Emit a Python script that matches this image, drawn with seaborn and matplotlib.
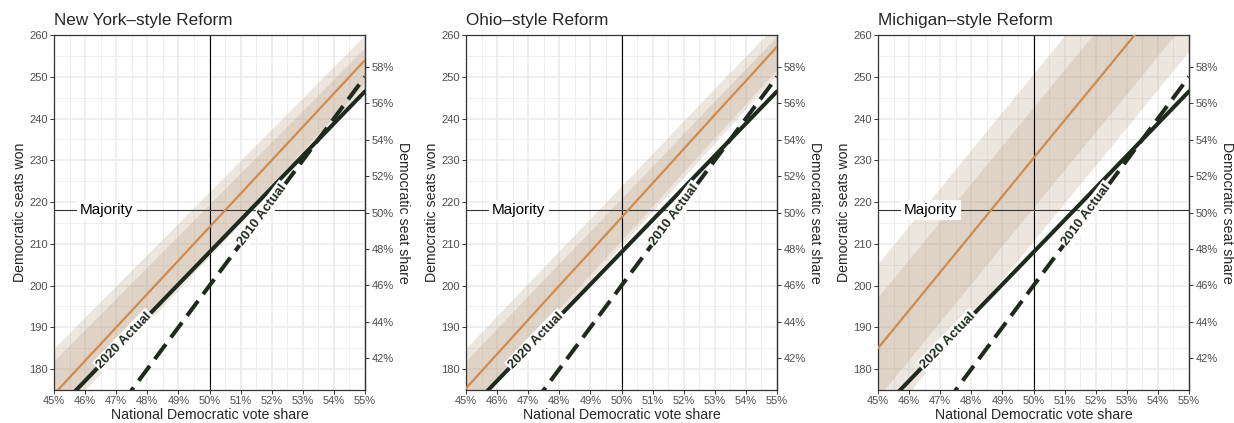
import numpy as np
import matplotlib
matplotlib.use("Agg")
import matplotlib.pyplot as plt
import seaborn as sns
from matplotlib.ticker import FixedLocator, FuncFormatter, MultipleLocator

sns.set_style("white")
plt.rcParams["font.family"] = ["Liberation Sans", "DejaVu Sans"]

# ── Data (seats out of 435) ─────────────────────────────────────────────────
vote_share = [45, 46, 47, 48, 49, 50, 51, 52, 53, 54, 55]

seats_2020 = [169.5, 177.2, 184.9, 192.6, 200.3, 208, 215.7, 223.4, 231.1, 238.8, 246.5]
seats_2010 = [150, 160, 170, 180, 190, 200, 210, 220, 230, 240, 250]

panel_titles = ["New York\u2013style Reform", "Ohio\u2013style Reform", "Michigan\u2013style Reform"]

ny_mid      = [174, 182, 190, 198, 206, 214, 222, 230, 238, 246, 254]
ny_inner_lo = [168.5, 176.5, 184.5, 192.5, 200.5, 208.5, 216.5, 224.5, 232.5, 240.5, 248.5]
ny_inner_hi = [182, 189.5, 197, 204.5, 212, 219.5, 227, 234.5, 242, 249.5, 257]
ny_outer_lo = [167, 175, 183, 191, 199, 207, 215, 223, 231, 239, 247]
ny_outer_hi = [185, 192.5, 200, 207.5, 215, 222.5, 230, 237.5, 245, 252.5, 260]

oh_mid      = [175.4, 183.6, 191.8, 200, 208.1, 216.3, 224.5, 232.7, 240.9, 249, 257.2]
oh_inner_lo = [170, 178.2, 186.4, 194.6, 202.7, 210.9, 219.1, 227.3, 235.5, 243.6, 251.8]
oh_inner_hi = [182, 189.8, 197.6, 205.4, 213.1, 220.9, 228.7, 236.5, 244.3, 252, 259.7]
oh_outer_lo = [168.7, 176.9, 185.1, 193.3, 201.4, 209.6, 217.8, 226, 234.2, 242.4, 250.6]
oh_outer_hi = [185, 192.8, 200.6, 208.4, 216.1, 223.9, 231.7, 239.5, 247.3, 255, 262.8]

mi_mid      = [185, 194.1, 203.2, 212.3, 221.4, 230.5, 239.6, 248.6, 257.7, 266.8, 275.9]
mi_inner_lo = [173, 182.1, 191.2, 200.3, 209.4, 218.5, 227.6, 236.6, 245.7, 254.8, 263.9]
mi_inner_hi = [197, 206.1, 215.2, 224.3, 233.4, 242.5, 251.6, 260.6, 269.7, 278.8, 287.9]
mi_outer_lo = [165, 174.1, 183.2, 192.3, 201.4, 210.5, 219.6, 228.6, 237.7, 246.8, 255.9]
mi_outer_hi = [205, 214.1, 223.2, 232.3, 241.4, 250.5, 259.6, 268.6, 277.7, 286.8, 295.9]

panels = [
    (ny_mid, ny_inner_lo, ny_inner_hi, ny_outer_lo, ny_outer_hi),
    (oh_mid, oh_inner_lo, oh_inner_hi, oh_outer_lo, oh_outer_hi),
    (mi_mid, mi_inner_lo, mi_inner_hi, mi_outer_lo, mi_outer_hi),
]

HOUSE_SEATS = 435
MAJORITY = 218
share_ticks = [42, 44, 46, 48, 50, 52, 54, 56, 58]

# ── Style ───────────────────────────────────────────────────────────────────
DARK = "#1F291E"
ORANGE = "#D08A4B"
BAND = "#B89C80"
GRID = "#EBEBEB"
BORDER = "#333333"
TICKTXT = "#4D4D4D"

W, H = 1234, 423
fig = plt.figure(figsize=(W / 100, H / 100), dpi=100)
lefts = [54, 466, 878]
ax_w, ax_top, ax_bot = 311, 35, 390


def line_angle(ax, xs, ys):
    p1 = ax.transData.transform((xs[0], ys[0]))
    p2 = ax.transData.transform((xs[-1], ys[-1]))
    return np.degrees(np.arctan2(p2[1] - p1[1], p2[0] - p1[0]))


for i, (title, (mid, ilo, ihi, olo, ohi)) in enumerate(zip(panel_titles, panels)):
    ax = fig.add_axes([lefts[i] / W, (H - ax_bot) / H, ax_w / W, (ax_bot - ax_top) / H])
    ax.set_xlim(45, 55)
    ax.set_ylim(175, 260)

    # grid like theme_bw
    ax.xaxis.set_major_locator(MultipleLocator(1))
    ax.xaxis.set_minor_locator(MultipleLocator(0.5))
    ax.yaxis.set_major_locator(FixedLocator([180, 190, 200, 210, 220, 230, 240, 250, 260]))
    ax.yaxis.set_minor_locator(FixedLocator([175, 185, 195, 205, 215, 225, 235, 245, 255]))
    ax.grid(True, which="major", color=GRID, linewidth=1.1, zorder=0)
    ax.grid(True, which="minor", color=GRID, linewidth=0.55, zorder=0)
    ax.set_axisbelow(True)

    # uncertainty ribbons
    ax.fill_between(vote_share, olo, ohi, color=BAND, alpha=0.25, linewidth=0, zorder=1)
    ax.fill_between(vote_share, ilo, ihi, color=BAND, alpha=0.25, linewidth=0, zorder=1)

    # reference lines
    ax.axvline(50, color="black", linewidth=0.8, zorder=2)
    ax.axhline(MAJORITY, color=BORDER, linewidth=0.8, zorder=2)

    sns.lineplot(x=vote_share, y=mid, ax=ax, color=ORANGE, linewidth=1.6, zorder=3)
    sns.lineplot(x=vote_share, y=seats_2020, ax=ax, color=DARK, linewidth=2.9, zorder=4)
    l10 = sns.lineplot(x=vote_share, y=seats_2010, ax=ax, color=DARK, linewidth=2.9, zorder=4).lines[-1]
    l10.set_dashes((4.6, 2.1))
    l10.set_dash_capstyle("butt")

    # labels on lines
    ax.text(46.7, MAJORITY, "Majority", fontsize=11, color="black", ha="center", va="center",
            zorder=6, bbox=dict(boxstyle="square,pad=0.2", fc="white", ec="none"))
    a20 = line_angle(ax, vote_share, seats_2020)
    ax.text(47.25, np.interp(47.25, vote_share, seats_2020), "2020 Actual", fontsize=9.5,
            fontweight="bold", color=DARK, rotation=a20, rotation_mode="anchor",
            ha="center", va="center", zorder=6,
            bbox=dict(boxstyle="square,pad=0.12", fc="white", ec="none"))
    a10 = line_angle(ax, vote_share, seats_2010)
    ax.text(51.7, np.interp(51.7, vote_share, seats_2010), "2010 Actual", fontsize=9.5,
            fontweight="bold", color=DARK, rotation=a10, rotation_mode="anchor",
            ha="center", va="center", zorder=6,
            bbox=dict(boxstyle="square,pad=0.12", fc="white", ec="none"))

    # axes cosmetics
    ax.xaxis.set_major_formatter(FuncFormatter(lambda v, p: f"{v:.0f}%"))
    ax.tick_params(axis="both", which="major", labelsize=8, labelcolor=TICKTXT, color=BORDER,
                   length=3, width=0.7, direction="out", pad=1.5, left=True, bottom=True)
    ax.tick_params(axis="both", which="minor", length=0)
    for sp in ax.spines.values():
        sp.set_color(BORDER)
        sp.set_linewidth(0.9)
    ax.set_xlabel("National Democratic vote share", fontsize=10.2, labelpad=1)
    ax.set_ylabel("Democratic seats won", fontsize=10.2, labelpad=1.5)
    ax.set_title(title, loc="left", fontsize=12.3, pad=7)

    sec = ax.secondary_yaxis("right", functions=(lambda s: s / HOUSE_SEATS * 100,
                                                 lambda p: p * HOUSE_SEATS / 100))
    sec.yaxis.set_major_locator(FixedLocator(share_ticks))
    sec.yaxis.set_major_formatter(FuncFormatter(lambda v, p: f"{v:.0f}%"))
    sec.tick_params(labelsize=8, labelcolor=TICKTXT, color=BORDER, length=3, width=0.7, pad=1.5)
    sec.spines["right"].set_color(BORDER)
    sec.spines["right"].set_linewidth(0.9)
    sec.set_ylabel("Democratic seat share", fontsize=10.2, rotation=270, labelpad=12)

fig.savefig("out.png", dpi=100)
